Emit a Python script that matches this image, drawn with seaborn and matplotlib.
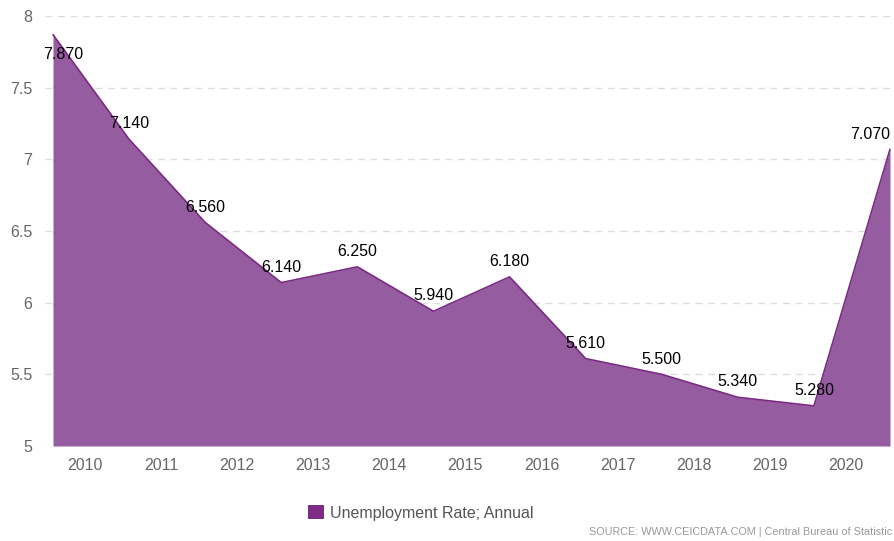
import matplotlib
matplotlib.use("Agg")
import matplotlib.pyplot as plt
import seaborn as sns
import numpy as np
import pandas as pd
from matplotlib.patches import Patch

years = ["2010", "2011", "2012", "2013", "2014", "2015", "2016", "2017", "2018", "2019", "2020"]
values = [7.87, 7.14, 6.56, 6.14, 6.25, 5.94, 6.18, 5.61, 5.50, 5.34, 5.28, 7.07]
labels = ["7.870", "7.140", "6.560", "6.140", "6.250", "5.940", "6.180", "5.610", "5.500", "5.340", "5.280", "7.070"]
yticks = [5, 5.5, 6, 6.5, 7, 7.5, 8]
ytick_labels = ["5", "5.5", "6", "6.5", "7", "7.5", "8"]

sns.set_theme(style="white")
plt.rcParams['font.family'] = ['Liberation Sans', 'DejaVu Sans']

df = pd.DataFrame({"pos": np.arange(len(values)), "value": values})

fig = plt.figure(figsize=(8.94, 5.41), dpi=100)
ax = fig.add_axes([45/894, 1-446/541, 849/894, 430/541])

fill_color = "#955c9f"
line_color = "#7a2a84"

ax.grid(axis="y", color="#dddddd", linestyle=(0, (5, 4)), linewidth=1, zorder=0)
ax.set_axisbelow(True)
ax.fill_between(df["pos"], 5, df["value"], color=fill_color, linewidth=0, zorder=2)
sns.lineplot(data=df, x="pos", y="value", ax=ax, color=line_color, linewidth=1.2, zorder=3)

ax.set_xlim(-8/76.09, 11 + 4/76.09)
ax.set_ylim(5, 8)
ax.set_yticks(yticks)
ax.set_yticklabels(ytick_labels)
ax.set_xticks([i + 0.42 for i in range(len(years))])
ax.set_xticklabels(years)
ax.tick_params(axis="both", length=0, labelsize=11.5, colors="#666666")
ax.tick_params(axis="x", pad=9)
ax.tick_params(axis="y", pad=9)
ax.set_xlabel("")
ax.set_ylabel("")
for s in ax.spines.values():
    s.set_visible(False)

for i, (v, lab) in enumerate(zip(values, labels)):
    if i == 0:
        ax.annotate(lab, (i, v), xytext=(7, -14), textcoords="offset points",
                    ha="center", va="center", fontsize=11.5, color="black", zorder=5)
    elif i == len(values) - 1:
        ax.annotate(lab, (i, v), xytext=(-14, 11), textcoords="offset points",
                    ha="center", va="center", fontsize=11.5, color="black", zorder=5)
    else:
        ax.annotate(lab, (i, v), xytext=(0, 11), textcoords="offset points",
                    ha="center", va="center", fontsize=11.5, color="black", zorder=5)

fig.legend(handles=[Patch(facecolor="#7c2d86", edgecolor="none", label="Unemployment Rate; Annual")],
           loc="center", bbox_to_anchor=(421/894, 1-513/541), frameon=False,
           fontsize=11.5, handlelength=1.0, handleheight=1.0, handletextpad=0.4,
           labelcolor="#555555")

fig.text(892/894, 1-532/541, "SOURCE: WWW.CEICDATA.COM | Central Bureau of Statistic",
         ha="right", va="center", fontsize=7.8, color="#999999")

fig.savefig("out.png", dpi=100)
